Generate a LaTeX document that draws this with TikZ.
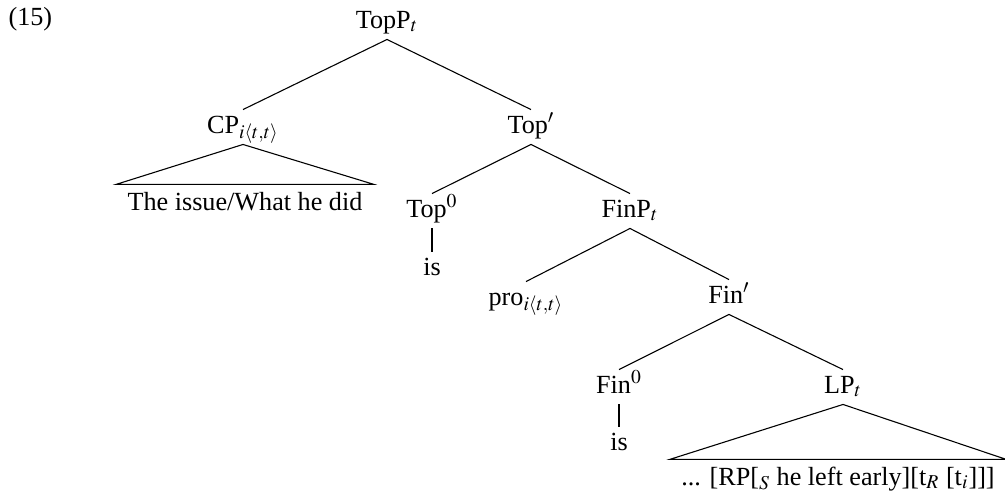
\documentclass[tikz,border=0pt,12pt]{standalone}
\usepackage{mathptmx}
\usepackage{fontspec}
\setmainfont{Liberation Serif}
\usepackage{tikz}

\begin{document}
\begin{tikzpicture}[x=0.01612cm,y=-0.01612cm,thick,
  line width=0.5pt,
  tree node/.style={anchor=base,inner sep=3pt,text height=7.5pt,text depth=2pt},
  roof node/.style={anchor=base,inner ysep=3pt,inner xsep=5pt,text height=8.5pt,text depth=2pt}]

  \useasboundingbox (0,0) rectangle (1005,491);

  \node[anchor=base west,inner sep=0pt] (ex) at (8,25) {(15)};

  \node[tree node] (topp) at (387,28) {TopP$_t$};
  \node[tree node] (cp) at (243,133) {CP$_{i\langle t,t\rangle}$};
  \node[roof node] (issue) at (245,210) {The issue/What he did};
  \node[tree node] (topbar) at (531,133) {Top$'$};
  \node[tree node] (top0) at (432,217) {Top$^0$};
  \node[tree node] (is1) at (432,275) {is};
  \node[tree node] (finp) at (630,217) {FinP$_t$};
  \node[tree node] (pro) at (526,305) {pro$_{i\langle t,t\rangle}$};
  \node[tree node] (finbar) at (729,303) {Fin$'$};
  \node[tree node] (fin0) at (619,393) {Fin$^0$};
  \node[tree node] (is2) at (619,450) {is};
  \node[tree node] (lp) at (843,393) {LP$_t$};
  \node[roof node] (rp) at (838,485)
    {... [RP[$_S$ he left early][t$_R$ [t$_i$]]]};

  \path
    (topp.south) edge (cp.north)
    (topp.south) edge (topbar.north)
    (topbar.south) edge (top0.north)
    (topbar.south) edge (finp.north)
    (top0.south) edge (is1.north)
    (finp.south) edge (pro.north)
    (finp.south) edge (finbar.north)
    (finbar.south) edge (fin0.north)
    (finbar.south) edge (lp.north)
    (fin0.south) edge (is2.north);

  \draw (cp.south) -- (issue.north east) -- (issue.north west) -- cycle;
  \draw (lp.south) -- (rp.north east) -- (rp.north west) -- cycle;

\end{tikzpicture}
\end{document}
